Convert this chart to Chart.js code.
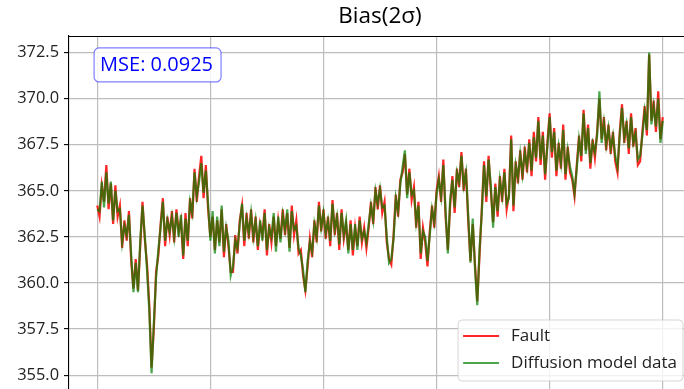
<!DOCTYPE html>
<html>
<head>
<meta charset="utf-8">
<script src="https://cdn.jsdelivr.net/npm/chart.js@4.4.0/dist/chart.umd.min.js"></script>
<style>
  html, body { margin: 0; padding: 0; background: #fff; overflow: hidden; }
  #wrap { width: 684px; height: 389px; overflow: hidden; position: relative; }
</style>
</head>
<body>
<div id="wrap"><canvas id="c" width="691" height="389"></canvas></div>
<script>
// Sample spacing along the x axis (one stored value every 2 samples)
const sampleStep = 2;

const chartTitle = 'Bias(2σ)';
const seriesNames = ['Fault', 'Diffusion model data'];
const mseValue = 0.0925;

const xTicks = [0, 100, 200, 300, 400, 500];
const yTicks = [355.0, 357.5, 360.0, 362.5, 365.0, 367.5, 370.0, 372.5];

const fault = [
  364.2, 363.6, 365.3, 364.4, 366.4, 364.0, 365.4, 363.2, 365.3, 363.6,
  364.2, 361.9, 363.4, 362.3, 363.9, 361.2, 359.7, 361.3, 359.6, 362.0,
  364.4, 362.4, 361.0, 358.8, 355.4, 357.5, 360.6, 361.5, 363.2, 364.6,
  362.0, 363.6, 362.6, 363.9, 362.2, 364.0, 362.8, 363.4, 361.3, 363.8,
  362.0, 364.6, 363.5, 366.2, 364.4, 365.8, 366.9, 364.6, 366.4, 364.0,
  362.5, 363.6, 361.8, 363.4, 362.2, 364.0, 361.4, 363.2, 362.0, 360.6,
  360.6, 362.6, 361.6, 363.4, 364.2, 362.0, 363.8, 362.4, 364.0, 362.2,
  363.6, 361.8, 363.2, 362.6, 364.0, 361.5, 363.2, 362.2, 363.6, 362.0,
  363.4, 362.4, 364.0, 362.6, 363.8, 361.9, 364.2, 362.6, 363.4, 361.6,
  361.8, 360.4, 359.6, 360.9, 362.4, 361.4, 363.4, 362.2, 364.4, 362.8,
  364.0, 362.4, 363.6, 362.0, 364.5, 362.6, 363.8, 361.8, 364.0, 362.4,
  363.2, 361.8, 363.4, 361.5, 363.0, 362.0, 363.6, 362.2, 363.0, 361.9,
  363.0, 364.4, 363.2, 365.2, 364.0, 365.3, 363.8, 364.4, 362.2, 361.3,
  361.0, 362.6, 364.8, 363.6, 365.6, 366.0, 367.0, 364.8, 366.2, 364.5,
  365.2, 363.0, 364.4, 361.3, 363.0, 362.2, 360.9, 362.8, 364.2, 363.0,
  365.0, 365.8, 364.4, 366.7, 363.6, 361.8, 364.2, 365.8, 363.8, 366.2,
  365.2, 367.1, 365.0, 366.2, 363.4, 361.2, 363.2, 361.0, 359.0, 361.5,
  364.0, 366.6, 364.4, 366.9, 365.0, 363.3, 365.4, 363.6, 365.8, 364.4,
  366.2, 364.0, 364.8, 368.0, 363.9, 366.6, 365.4, 367.2, 365.6, 367.4,
  366.0, 367.8, 365.8, 368.2, 366.6, 369.0, 366.4, 368.2, 365.6, 367.6,
  369.2, 366.8, 368.4, 365.8, 367.6, 366.2, 368.6, 365.6, 367.4, 366.0,
  365.6, 364.7, 366.4, 368.0, 366.6, 369.4, 367.2, 368.6, 366.2, 367.8,
  366.8, 368.2, 370.0, 367.8, 369.0, 367.2, 368.6, 367.0, 368.2, 366.6,
  366.0, 368.2, 369.7, 367.6, 368.8, 367.0, 369.2, 367.4, 368.4, 366.4,
  366.6, 368.2, 369.6, 368.0, 372.4, 368.8, 369.9, 368.2, 370.4, 367.8, 369.0
];

const diffusion = [
  364.0, 363.9, 365.5, 364.1, 366.0, 364.3, 365.5, 363.4, 365.0, 363.9,
  364.0, 362.2, 363.1, 362.6, 363.7, 361.5, 359.5, 361.1, 359.5, 362.3,
  364.2, 362.6, 360.7, 358.5, 355.1, 357.8, 360.3, 361.8, 363.0, 364.4,
  362.3, 363.4, 362.8, 363.6, 362.5, 363.8, 362.5, 363.7, 361.5, 363.5,
  362.3, 364.4, 363.8, 366.0, 364.7, 365.5, 366.5, 364.9, 366.1, 364.3,
  362.3, 363.9, 361.6, 363.6, 362.0, 364.2, 361.7, 363.0, 362.3, 360.4,
  360.9, 362.3, 361.9, 363.2, 364.3, 362.3, 363.5, 362.7, 363.8, 362.5,
  363.4, 362.0, 363.4, 362.3, 363.8, 361.8, 363.0, 362.5, 363.8, 361.7,
  363.6, 362.2, 363.7, 362.9, 364.0, 361.7, 363.9, 362.9, 363.1, 361.9,
  361.5, 360.7, 359.5, 361.2, 362.2, 361.7, 363.2, 362.5, 364.2, 363.0,
  363.8, 362.7, 363.4, 362.3, 364.3, 362.9, 363.6, 362.1, 363.8, 362.6,
  363.4, 361.6, 363.2, 361.8, 363.2, 361.8, 363.4, 362.4, 362.8, 362.2,
  363.2, 364.2, 363.4, 365.0, 364.3, 365.1, 364.1, 364.2, 362.5, 361.1,
  361.3, 362.4, 364.6, 363.9, 365.4, 366.3, 367.2, 364.6, 366.0, 364.8,
  365.0, 363.3, 364.2, 361.6, 362.8, 362.5, 361.2, 362.6, 364.0, 363.3,
  364.8, 365.6, 364.7, 366.4, 363.9, 361.6, 364.5, 365.6, 364.1, 366.0,
  365.5, 366.9, 365.3, 366.0, 363.7, 361.1, 363.5, 360.8, 358.8, 361.8,
  363.8, 366.4, 364.7, 366.7, 365.3, 363.0, 365.2, 363.9, 365.6, 364.7,
  366.0, 364.3, 364.6, 367.8, 364.2, 366.4, 365.7, 367.0, 365.9, 367.1,
  366.3, 367.6, 366.1, 367.9, 366.8, 368.8, 366.7, 368.0, 365.9, 367.4,
  369.0, 367.1, 368.2, 366.1, 367.4, 366.5, 368.3, 365.9, 367.2, 366.3,
  365.8, 364.9, 366.2, 367.8, 366.9, 369.2, 367.0, 368.4, 366.5, 367.6,
  367.1, 368.0, 370.4, 367.6, 368.7, 367.5, 368.4, 367.3, 368.0, 366.9,
  366.3, 368.0, 369.5, 367.9, 368.6, 367.3, 369.0, 367.6, 368.1, 366.7,
  366.9, 368.0, 369.3, 368.3, 372.5, 368.6, 369.6, 368.5, 370.0, 367.6, 368.8
];

const FONT = "'Open Sans', sans-serif";
const faultColor = 'rgba(255, 0, 0, 0.85)';
const diffusionColor = 'rgba(0, 128, 0, 0.7)';
const gridColor = '#bdbdbd';

const toPoints = arr => arr.map((v, i) => ({ x: i * sampleStep, y: v }));

// Axes run right up to the canvas edges: drop the label overflow padding
const noPadding = s => {
  s.paddingTop = 0; s.paddingBottom = 0; s.paddingLeft = 0; s.paddingRight = 0;
};

// Top frame line, MSE annotation box and lower-right legend
const decorations = {
  id: 'decorations',
  afterDatasetsDraw(chart) {
    const ctx = chart.ctx;
    const a = chart.chartArea;
    const w = a.right - a.left;
    const h = a.bottom - a.top;

    ctx.save();
    // top spine
    ctx.strokeStyle = '#000';
    ctx.lineWidth = 1.1;
    ctx.beginPath();
    ctx.moveTo(a.left, a.top + 0.5);
    ctx.lineTo(a.right, a.top + 0.5);
    ctx.stroke();

    // MSE annotation box
    const mseText = 'MSE: ' + mseValue.toFixed(4);
    ctx.font = `20px ${FONT}`;
    const tw = ctx.measureText(mseText).width;
    const tx = a.left + 0.05 * w;
    const ty = a.top + 0.082 * h;
    const bx = tx - 6, by = ty - 17, bw = tw + 14, bh = 34;
    ctx.beginPath();
    ctx.roundRect(bx, by, bw, bh, 5);
    ctx.fillStyle = 'rgba(255,255,255,0.85)';
    ctx.fill();
    ctx.strokeStyle = 'rgba(0,0,255,0.5)';
    ctx.lineWidth = 1.2;
    ctx.stroke();
    ctx.fillStyle = '#0000ff';
    ctx.textBaseline = 'middle';
    ctx.textAlign = 'left';
    ctx.fillText(mseText, tx, ty);

    // legend
    const ds = chart.data.datasets;
    ctx.font = `17px ${FONT}`;
    let maxW = 0;
    ds.forEach(d => { maxW = Math.max(maxW, ctx.measureText(d.label).width); });
    const pad = 5, lineLen = 36, gap = 12, rowH = 27;
    const lw = pad + lineLen + gap + maxW + 6;
    const lh = 16 + rowH + 18;
    const lx = a.right - 8 - lw;
    const ly = a.bottom - 8 - lh;
    ctx.beginPath();
    ctx.roundRect(lx, ly, lw, lh, 4);
    ctx.fillStyle = 'rgba(255,255,255,0.8)';
    ctx.fill();
    ctx.strokeStyle = 'rgba(204,204,204,0.8)';
    ctx.lineWidth = 1;
    ctx.stroke();
    ds.forEach((d, i) => {
      const cy = ly + 16 + i * rowH;
      ctx.strokeStyle = d.borderColor;
      ctx.lineWidth = 2;
      ctx.beginPath();
      ctx.moveTo(lx + pad, cy);
      ctx.lineTo(lx + pad + lineLen, cy);
      ctx.stroke();
      ctx.fillStyle = '#222';
      ctx.textBaseline = 'middle';
      ctx.fillText(d.label, lx + pad + lineLen + gap, cy);
    });
    ctx.restore();
  }
};

new Chart(document.getElementById('c'), {
  type: 'line',
  data: {
    datasets: [
      {
        label: seriesNames[0],
        data: toPoints(fault),
        borderColor: faultColor,
        borderWidth: 2.2,
        pointRadius: 0,
        tension: 0,
        order: 2
      },
      {
        label: seriesNames[1],
        data: toPoints(diffusion),
        borderColor: diffusionColor,
        borderWidth: 2.2,
        pointRadius: 0,
        tension: 0,
        order: 1
      }
    ]
  },
  options: {
    responsive: false,
    animation: false,
    devicePixelRatio: 1,
    layout: { padding: 0 },
    plugins: {
      legend: { display: false },
      tooltip: { enabled: false },
      title: {
        display: true,
        text: chartTitle,
        fullSize: false,
        color: '#000',
        font: { family: FONT, size: 22.5, weight: 'normal', lineHeight: 1.2 },
        padding: { top: 3, bottom: 6 }
      }
    },
    scales: {
      x: {
        type: 'linear',
        min: -25,
        max: 525,
        afterBuildTicks: s => { s.ticks = xTicks.map(v => ({ value: v })); },
        afterFit: s => { s.height = 0; noPadding(s); },
        ticks: { display: false },
        grid: { color: gridColor, lineWidth: 1.2, drawTicks: false },
        border: { display: false }
      },
      y: {
        type: 'linear',
        min: 354.25,
        max: 373.4,
        afterBuildTicks: s => { s.ticks = yTicks.map(v => ({ value: v })); },
        afterFit: s => { s.width = 69; noPadding(s); },
        ticks: {
          color: '#222',
          padding: 5,
          font: { family: FONT, size: 16.4 },
          callback: v => Number(v).toFixed(1)
        },
        grid: { color: gridColor, lineWidth: 1.2, tickLength: 5, tickColor: '#000', tickWidth: 1.1 },
        border: { display: true, color: '#000', width: 1.1 }
      }
    }
  },
  plugins: [decorations]
});
</script>
</body>
</html>
